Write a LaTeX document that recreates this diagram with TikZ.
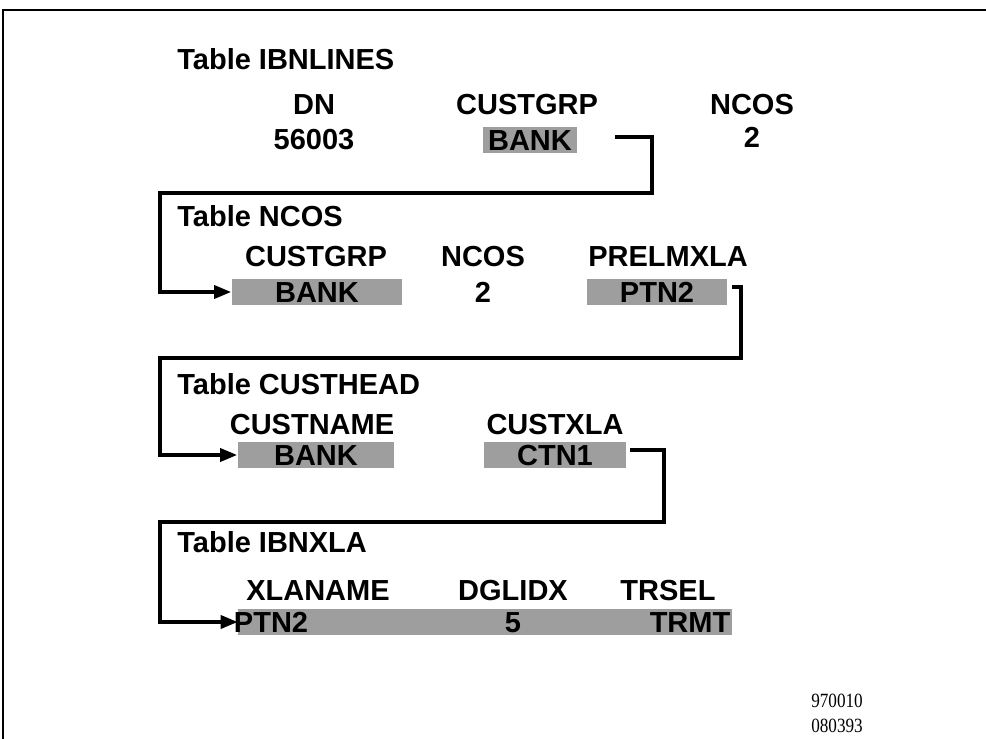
\documentclass[tikz,border=0pt]{standalone}
\usepackage{fontspec}
\setmainfont{Liberation Sans}
\newfontfamily\stampfont{Liberation Serif}
\usetikzlibrary{arrows.meta}

\begin{document}
\begin{tikzpicture}[x=0.02cm, y=-0.02cm,
    every node/.style={font=\fontsize{16.5}{19}\selectfont\bfseries, inner sep=0pt,
      text height=11.8pt, text depth=0pt},
    tabtitle/.style={anchor=west},
    shade/.style={fill=black!38, minimum height=0.52cm},
    link/.style={line width=2pt, -{Triangle[length=0.34cm,width=0.26cm]}},
    frame/.style={line width=1.1pt}]
    \useasboundingbox (0,0) rectangle (986,739);
    % Rahmen
    \draw[frame] (3,739) -- (3,10) -- (986,10);

    % Table IBNLINES
    \node[tabtitle] (tIbn) at (177,59) {Table IBNLINES};
    \node (hDn) at (314,104) {DN};
    \node (vDn) at (314,139) {56003};
    \node (hGrpA) at (527,104) {CUSTGRP};
    \node[shade, minimum width=1.88cm] (bankA) at (530,140) {BANK};
    \node (hNcosA) at (752,104) {NCOS};
    \node (vNcosA) at (752,137) {2};

    % Table NCOS
    \node[tabtitle] (tNcos) at (177,216) {Table NCOS};
    \node (hGrpB) at (316,256) {CUSTGRP};
    \node[shade, minimum width=3.42cm] (bankB) at (317,292) {BANK};
    \node (hNcosB) at (483,256) {NCOS};
    \node (vNcosB) at (483,292) {2};
    \node (hPrel) at (668,256) {PRELMXLA};
    \node[shade, minimum width=2.82cm] (ptnB) at (657,292) {PTN2};

    % Table CUSTHEAD
    \node[tabtitle] (tHead) at (177,384) {Table CUSTHEAD};
    \node (hName) at (312,424) {CUSTNAME};
    \node[shade, minimum width=3.14cm] (bankC) at (316,455) {BANK};
    \node (hXla) at (555,424) {CUSTXLA};
    \node[shade, minimum width=2.86cm] (ctnC) at (555,455) {CTN1};

    % Table IBNXLA
    \node[tabtitle] (tXla) at (177,542) {Table IBNXLA};
    \node (hXname) at (318,590) {XLANAME};
    \node (hIdx) at (513,590) {DGLIDX};
    \node (hSel) at (668,590) {TRSEL};
    \node[shade, minimum width=9.88cm] (xlaD) at (485,622) {};
    \node (ptnD) at (271,622) {PTN2};
    \node (idxD) at (513,622) {5};
    \node (selD) at (690,622) {TRMT};

    % Verweise
    \coordinate (upA) at (652,193);
    \coordinate (backA) at (160,193);
    \draw[link, shorten <=0.76cm] ([yshift=0.06cm]bankA.east) -| (upA) -- (backA) |- (bankB.west);

    \coordinate (upB) at (741,358);
    \coordinate (backB) at (160,358);
    \draw[link, shorten <=0.08cm] ([yshift=0.1cm]ptnB.east) -| (upB) -- (backB) |- (bankC.west);

    \coordinate (upC) at (664,522);
    \coordinate (backC) at (160,522);
    \draw[link, shorten <=0.06cm] ([yshift=0.1cm]ctnC.east) -| (upC) -- (backC) |- (xlaD.west);

    % Kennung
    \node[anchor=west, xscale=0.85, font=\stampfont\fontsize{11.5}{13}\selectfont] (idA) at (811,697) {970010};
    \node[anchor=west, xscale=0.85, font=\stampfont\fontsize{11.5}{13}\selectfont] (idB) at (811,722) {080393};
\end{tikzpicture}
\end{document}
